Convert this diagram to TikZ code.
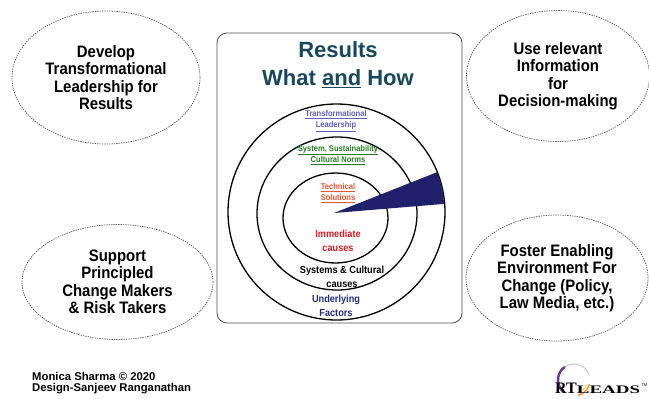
\documentclass[tikz,border=0pt]{standalone}
\usepackage{fontspec}
\setmainfont{Liberation Sans}
\newfontfamily\narrowfont[FakeStretch=0.9]{Liberation Sans}
\newfontfamily\logofont{Liberation Serif}
\usepackage{tikz}
\usetikzlibrary{calc,positioning,shapes.geometric}
\definecolor{titleteal}{RGB}{23,72,92}
\definecolor{leadblue}{RGB}{95,95,185}
\definecolor{normgreen}{RGB}{35,125,35}
\definecolor{techorange}{RGB}{232,85,45}
\definecolor{causered}{RGB}{212,30,35}
\definecolor{factornavy}{RGB}{32,45,125}
\definecolor{wedgenavy}{RGB}{32,32,108}
\definecolor{logopurple}{RGB}{115,55,155}
\definecolor{logoorange}{RGB}{235,130,40}
\definecolor{logoyellow}{RGB}{245,205,60}

\begin{document}
\begin{tikzpicture}[x=1pt,y=-1pt,
    goal/.style={ellipse,draw=gray!70!black,dash pattern=on 1.4pt off 1pt,line width=0.7pt,inner sep=0pt,align=center,font=\narrowfont\fontsize{16.6}{17.5}\selectfont\bfseries},
    ring/.style={line width=1.3pt},
    layer/.style={align=center,inner sep=0pt,font=\narrowfont\fontsize{8.4}{11.5}\selectfont\bfseries},
    cause/.style={align=center,inner sep=0pt,font=\narrowfont\fontsize{10.2}{13.5}\selectfont\bfseries}]
    \useasboundingbox (0,0) rectangle (649,399);
    % four goals round the frame
    \node[goal,minimum width=188,minimum height=133] (develop) at (106,77.5) {Develop\\Transformational\\Leadership for\\Results};
    \node[goal,minimum width=183,minimum height=131] (inform) at (558,76) {Use relevant\\Information\\for\\Decision-making};
    \node[goal,minimum width=191,minimum height=115] (support) at (117.5,282) {Support\\Principled\\Change Makers\\\& Risk Takers};
    \node[goal,minimum width=182,minimum height=126] (foster) at (557,278) {Foster Enabling\\Environment For\\Change (Policy,\\Law Media, etc.)};
    % centre frame
    \node[draw=gray!60!black,line width=0.8pt,rounded corners=10pt,minimum width=245,minimum height=290] (frame) at (339.5,178) {};
    \node[align=center,text=titleteal,font=\fontsize{22}{28}\selectfont\bfseries] (title) at (338,65) {Results\\What \underline{and} How};
    % rings and wedge
    \coordinate (o) at (336.5,212);
    \draw[ring] (o) circle[x radius=108.5, y radius=108];
    \draw[ring] (337,213.5) circle[x radius=80, y radius=76.5];
    \draw[ring] (335.5,218) circle[x radius=52.5, y radius=45];
    \fill[wedgenavy] (334,213) -- ($(o)+(-21.6:108)$) arc[start angle=-21.6, end angle=-4.3, radius=108] -- cycle;
    \node[layer,text=leadblue] (lead) at (336,121) {\underline{Transformational}\\\underline{Leadership}};
    \node[layer,text=normgreen] (norms) at (338,155) {\underline{System, Sustainability}\\\underline{Cultural Norms}};
    \node[layer,text=techorange] (tech) at (338,193) {\underline{Technical}\\\underline{Solutions}};
    \node[cause,text=causered] (immediate) at (338,241) {Immediate\\causes};
    \node[cause] (systems) at (342,277) {Systems \& Cultural\\causes};
    \node[cause,text=factornavy] (factors) at (336,306) {Underlying\\Factors};
    % credits and logo
    \node[anchor=base west,inner sep=0pt,font=\fontsize{11.3}{11}\selectfont\bfseries] (credit) at (32,380) {Monica Sharma © 2020};
    \node[anchor=base west,inner sep=0pt,font=\fontsize{11.3}{11}\selectfont\bfseries] (design) at (32,391) {Design-Sanjeev Ranganathan};
    \draw[gray!45,line width=1pt] (574,380) ++(235:16) arc[start angle=235, end angle=340, radius=16];
    \draw[logopurple,line width=2.5pt] (574,380) ++(130:16) arc[start angle=130, end angle=235, radius=16];
    \draw[logoorange,line width=1.2pt] (574,380) ++(15:16) arc[start angle=15, end angle=75, radius=16];
    \draw[logoyellow,line width=1pt] (574,380) ++(20:13.5) arc[start angle=20, end angle=70, radius=13.5];
    \node[anchor=base west,inner sep=0pt,font=\logofont\bfseries] (logo) at (555,393) {\fontsize{16}{16}\selectfont RT\fontsize{11.5}{11.5}\selectfont\scalebox{1.65}[1]{LEADS}};
    \node[anchor=north west,inner sep=0pt,font=\fontsize{4}{4}\selectfont] (tm) at ($(logo.north east)+(1,1)$) {TM};
\end{tikzpicture}
\end{document}
